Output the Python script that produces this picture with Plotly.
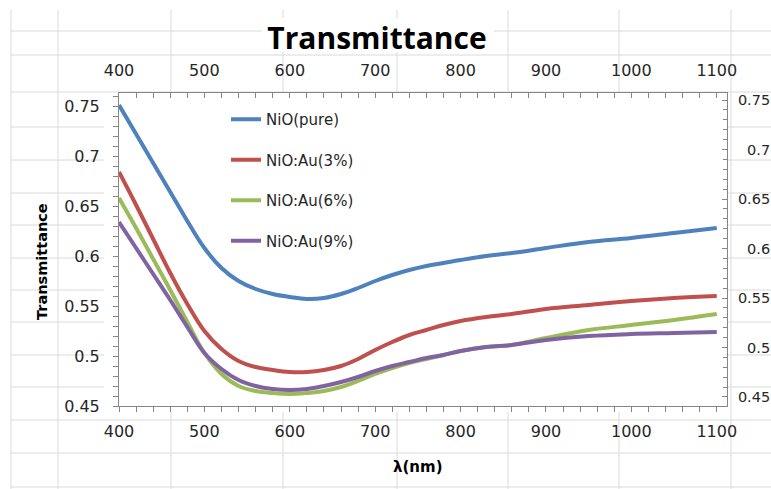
import plotly.graph_objects as go

# ---------------- data ----------------
wavelength = [400, 420, 440, 460, 480, 500, 520, 540, 560, 580, 600, 620, 640, 660,
              680, 700, 720, 740, 760, 780, 800, 830, 860, 900, 950, 1000, 1050, 1100]

nio_pure = [0.751, 0.722, 0.693, 0.664, 0.635, 0.608, 0.588, 0.575, 0.567, 0.562,
            0.559, 0.557, 0.558, 0.562, 0.568, 0.575, 0.581, 0.586, 0.590, 0.593,
            0.596, 0.600, 0.603, 0.608, 0.614, 0.618, 0.623, 0.628]
nio_au3 = [0.684, 0.651, 0.617, 0.583, 0.552, 0.525, 0.507, 0.495, 0.489, 0.486,
           0.484, 0.484, 0.486, 0.490, 0.497, 0.506, 0.514, 0.521, 0.526, 0.531,
           0.535, 0.539, 0.542, 0.547, 0.551, 0.555, 0.558, 0.560]
nio_au6 = [0.658, 0.628, 0.597, 0.566, 0.534, 0.503, 0.482, 0.470, 0.465, 0.463,
           0.462, 0.463, 0.465, 0.469, 0.475, 0.482, 0.488, 0.493, 0.497, 0.501,
           0.505, 0.509, 0.511, 0.518, 0.526, 0.531, 0.536, 0.542]
nio_au9 = [0.634, 0.608, 0.582, 0.556, 0.529, 0.503, 0.487, 0.476, 0.470, 0.467,
           0.466, 0.467, 0.470, 0.474, 0.479, 0.485, 0.490, 0.494, 0.498, 0.501,
           0.505, 0.509, 0.511, 0.516, 0.520, 0.522, 0.523, 0.524]

series_names = ["NiO(pure)", "NiO:Au(3%)", "NiO:Au(6%)", "NiO:Au(9%)"]
series_values = [nio_pure, nio_au3, nio_au6, nio_au9]
series_colors = ["#4F81BD", "#C0504D", "#9BBB59", "#8064A2"]

x_ticks = [400, 500, 600, 700, 800, 900, 1000, 1100]
y_ticks = [0.45, 0.5, 0.55, 0.6, 0.65, 0.7, 0.75]
y_tick_text = ["0.45", "0.5", "0.55", "0.6", "0.65", "0.7", "0.75"]
right_tick_text = ["0.45", "\u20070.5", "0.55", "\u20070.6", "0.65", "\u20070.7", "0.75"]

title_text = "Transmittance"
x_title = "λ(nm)"
y_title = "Transmittance"

# ---------------- layout geometry ----------------
W, H = 771, 489
L, T, R, B = 119, 93, 44, 83
PW, PH = W - L - R, H - T - B


def fx(px):
    return (px - L) / PW


def fy(py):
    return (T + PH - py) / PH


FONT = "DejaVu Sans"
AXC = "#868686"
TXT = "#262626"

fig = go.Figure()
for name, vals, col in zip(series_names, series_values, series_colors):
    fig.add_trace(go.Scatter(
        x=wavelength, y=vals, name=name, mode="lines",
        line=dict(color=col, width=4, shape="spline", smoothing=1.1),
        legendgroup=name,
    ))

# carrier trace for the secondary (top / right) axes
fig.add_trace(go.Scatter(x=x_ticks, y=[None] * len(x_ticks), xaxis="x2", yaxis="y2",
                         showlegend=False, hoverinfo="skip", mode="lines"))

# ---------------- spreadsheet background grid ----------------
grid_cols = [11, 58, 171, 283, 397, 508, 619, 731]
grid_rows = [31, 55, 92, 127, 160, 193, 225, 258, 290, 322, 355, 387, 420, 453, 487]
shapes = []
for c in grid_cols:
    shapes.append(dict(type="line", xref="paper", yref="paper", x0=fx(c), x1=fx(c),
                       y0=fy(10), y1=fy(489), line=dict(color="#DADADA", width=1), layer="below"))
for r in grid_rows:
    shapes.append(dict(type="line", xref="paper", yref="paper", x0=fx(11), x1=fx(771),
                       y0=fy(r), y1=fy(r), line=dict(color="#DADADA", width=1), layer="below"))
# white chart area
shapes.append(dict(type="rect", xref="paper", yref="paper", x0=fx(104), x1=fx(728),
                   y0=fy(412), y1=fy(93), fillcolor="white", line=dict(width=0), layer="below"))
shapes.append(dict(type="rect", xref="paper", yref="paper", x0=fx(262), x1=fx(494),
                   y0=fy(52), y1=fy(18), fillcolor="white", line=dict(width=0), layer="below"))

fig.update_layout(
    width=W, height=H,
    margin=dict(l=L, r=R, t=T, b=B, autoexpand=False),
    paper_bgcolor="white",
    plot_bgcolor="rgba(0,0,0,0)",
    font=dict(family=FONT, color=TXT, size=16),
    shapes=shapes,
    title=dict(text=f"<b>{title_text}</b>", x=377 / W, xanchor="center",
               y=1 - 38 / H, yanchor="middle", automargin=False,
               font=dict(family="Open Sans", size=30, color="#000000")),
    showlegend=True,
    legend=dict(x=fx(226), y=fy(103), xanchor="left", yanchor="top",
                bgcolor="rgba(0,0,0,0)", traceorder="grouped", tracegroupgap=18,
                font=dict(family=FONT, size=15, color=TXT), itemwidth=30),
    xaxis=dict(range=[400, 1112], tickvals=x_ticks, ticks="outside", ticklen=5,
               tickcolor=AXC, showline=True, linecolor=AXC, linewidth=1,
               showgrid=False, zeroline=False, ticklabelstandoff=6, automargin=False,
               minor=dict(dtick=20, ticks="outside", ticklen=5, tickcolor=AXC),
               tickfont=dict(family=FONT, size=16, color=TXT)),
    yaxis=dict(range=[0.45, 0.763], tickvals=y_ticks, ticktext=y_tick_text,
               ticks="outside", ticklen=5, tickcolor=AXC, showline=True,
               linecolor=AXC, linewidth=1, showgrid=False, zeroline=False,
               ticklabelstandoff=10, automargin=False,
               minor=dict(dtick=0.01, ticks="outside", ticklen=5, tickcolor=AXC),
               tickfont=dict(family=FONT, size=16, color=TXT)),
    xaxis2=dict(range=[400, 1112], tickvals=x_ticks, overlaying="x", side="top",
                anchor="y2", ticks="inside", ticklen=5, tickcolor=AXC, showline=True,
                linecolor=AXC, linewidth=1, showgrid=False, zeroline=False,
                ticklabelstandoff=10, automargin=False,
                minor=dict(dtick=20, ticks="inside", ticklen=5, tickcolor=AXC),
                tickfont=dict(family=FONT, size=16, color=TXT)),
    yaxis2=dict(range=[0.4409, 0.7571], tickvals=y_ticks, ticktext=right_tick_text,
                overlaying="y", side="right", anchor="x2", ticks="inside", ticklen=5,
                tickcolor=AXC, showline=True, linecolor=AXC, linewidth=1,
                showgrid=False, zeroline=False, ticklabelstandoff=7, automargin=False,
                minor=dict(dtick=0.01, ticks="inside", ticklen=4, tickcolor=AXC),
                tickfont=dict(family=FONT, size=14.5, color=TXT)),
    annotations=[
        dict(text=f"<b>{x_title}</b>", xref="paper", yref="paper", x=fx(418), y=fy(467),
             xanchor="center", yanchor="middle", showarrow=False,
             font=dict(family=FONT, size=15, color="#000000")),
        dict(text=f"<b>{y_title}</b>", xref="paper", yref="paper", x=fx(42), y=fy(262),
             xanchor="center", yanchor="middle", showarrow=False, textangle=-90,
             font=dict(family=FONT, size=14.5, color="#000000")),
    ],
)

fig.write_html("out.html")
